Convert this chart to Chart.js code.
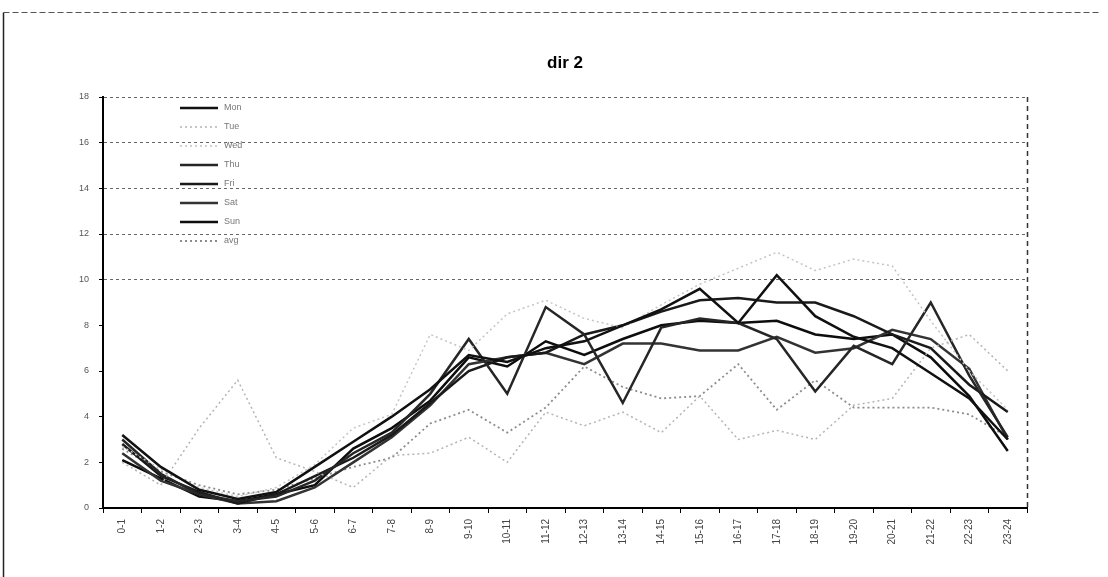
<!DOCTYPE html>
<html>
<head>
<meta charset="utf-8">
<script src="https://cdn.jsdelivr.net/npm/chart.js@4.4.0/dist/chart.umd.min.js"></script>
<style>
  html, body { margin: 0; padding: 0; background: #fff; }
  #wrap { width: 1108px; height: 577px; }
</style>
</head>
<body>
<div id="wrap"><canvas id="dirChart" width="1108" height="577"></canvas></div>
<script>
// hours of the day
const hours = ['0-1','1-2','2-3','3-4','4-5','5-6','6-7','7-8','8-9','9-10','10-11','11-12',
  '12-13','13-14','14-15','15-16','16-17','17-18','18-19','19-20','20-21','21-22','22-23','23-24'];

const seriesNames = ['Mon','Tue','Wed','Thu','Fri','Sat','Sun','avg'];

// values (rough)
const mon = [3.2,1.8,0.8,0.4,0.7,1.8,2.9,4.0,5.2,6.7,6.4,7.0,7.3,8.0,8.7,9.6,8.1,10.2,8.4,7.5,7.0,5.9,4.8,3.0];
const tue = [2.0,1.0,3.5,5.6,2.2,1.6,0.9,2.3,2.4,3.1,2.0,4.2,3.6,4.2,3.3,4.9,3.0,3.4,3.0,4.5,4.8,7.0,7.6,6.0];
const wed = [2.7,1.7,0.9,0.5,0.9,1.9,3.5,4.1,7.6,6.9,8.5,9.1,8.3,7.9,8.9,9.8,10.5,11.2,10.4,10.9,10.6,8.2,6.0,4.3];
const thu = [3.0,1.5,0.6,0.3,0.5,1.2,2.4,3.3,5.0,7.4,5.0,8.8,7.6,4.6,7.9,8.3,8.1,7.4,5.1,7.1,6.3,9.0,5.8,3.1];
const fri = [2.8,1.4,0.7,0.2,0.6,1.4,2.2,3.2,4.6,6.0,6.6,6.8,7.6,8.0,8.6,9.1,9.2,9.0,9.0,8.4,7.6,7.0,5.4,4.2];
const sat = [2.4,1.2,0.6,0.2,0.3,0.9,2.0,3.1,4.5,6.3,6.6,6.8,6.3,7.2,7.2,6.9,6.9,7.5,6.8,7.0,7.8,7.4,6.1,3.0];
const sun = [2.1,1.3,0.5,0.3,0.6,1.0,2.6,3.5,4.7,6.6,6.2,7.3,6.7,7.4,8.0,8.2,8.1,8.2,7.6,7.4,7.6,6.6,4.9,2.5];
const avg = [2.6,1.6,1.0,0.6,0.8,1.3,1.8,2.2,3.7,4.3,3.3,4.4,6.2,5.3,4.8,4.9,6.3,4.3,5.6,4.4,4.4,4.4,4.1,3.1];

const yTicks = [0,2,4,6,8,10,12,14,16,18];

const allData = [mon, tue, wed, thu, fri, sat, sun, avg];
const lineColors = ['#111111','#b4b4b4','#c4c4c4','#262626','#1a1a1a','#333333','#0d0d0d','#8c8c8c'];
const lineDash = [[],[2,3],[2,3],[],[],[],[],[2,3]];
const lineWidth = [2.5,1.5,1.5,2.5,2.5,2.5,2.5,1.8];

const datasets = allData.map((d, i) => ({
    label: seriesNames[i],
    data: d,
    borderColor: lineColors[i],
    borderDash: lineDash[i],
    borderWidth: lineWidth[i],
    pointRadius: 0,
    fill: false,
    tension: 0
}));

// frame, title, legend, right border
const decor = {
    id: 'decor',
    beforeDraw(chart) {
        const c = chart.ctx;
        c.save();
        c.fillStyle = '#fff';
        c.fillRect(0, 0, chart.width, chart.height);
        c.strokeStyle = '#222';
        c.lineWidth = 1.5;
        c.beginPath();
        c.moveTo(3.5, 577); c.lineTo(3.5, 12.5);
        c.stroke();
        c.setLineDash([6, 3]);
        c.strokeStyle = '#555';
        c.lineWidth = 1;
        c.beginPath();
        c.moveTo(3.5, 12.5); c.lineTo(1100, 12.5);
        c.stroke();
        c.restore();
    },
    afterDraw(chart) {
        const c = chart.ctx;
        const a = chart.chartArea;
        c.save();
        // right border of plot
        c.strokeStyle = '#333';
        c.lineWidth = 1.5;
        c.setLineDash([5, 4]);
        c.beginPath();
        c.moveTo(a.right + 0.5, a.top); c.lineTo(a.right + 0.5, a.bottom);
        c.stroke();
        c.setLineDash([]);
        // title
        c.fillStyle = '#000';
        c.font = 'bold 17px "Liberation Sans", Arial, sans-serif';
        c.textAlign = 'center';
        c.textBaseline = 'middle';
        c.fillText('dir 2', (a.left + a.right) / 2, 63);
        // legend
        c.font = '9px "Liberation Sans", Arial, sans-serif';
        c.textAlign = 'left';
        chart.data.datasets.forEach((ds, i) => {
            const y = a.top + 11 + i * 19;
            c.strokeStyle = ds.borderColor;
            c.lineWidth = ds.borderWidth;
            c.setLineDash(ds.borderDash);
            c.beginPath();
            c.moveTo(a.left + 77, y); c.lineTo(a.left + 115, y);
            c.stroke();
            c.setLineDash([]);
            c.fillStyle = '#777';
            c.fillText(ds.label, a.left + 121, y);
        });
        c.restore();
    }
};

new Chart(document.getElementById('dirChart'), {
    type: 'line',
    data: { labels: hours, datasets },
    options: {
        responsive: false,
        animation: false,
        layout: { padding: { left: 0, right: 81, top: 97, bottom: 0 } },
        plugins: {
            legend: { display: false },
            title: { display: false },
            tooltip: { enabled: false }
        },
        scales: {
            x: {
                offset: true,
                afterFit: s => { s.height = 69; },
                grid: { drawOnChartArea: false, offset: true, tickLength: 5, tickColor: '#000' },
                border: { color: '#000', width: 2 },
                ticks: {
                    minRotation: 90, maxRotation: 90, autoSkip: false, padding: 6,
                    color: '#444',
                    font: { size: 10, family: '"Liberation Sans", Arial, sans-serif' }
                }
            },
            y: {
                min: 0, max: 18,
                afterFit: s => { s.width = 103; },
                afterBuildTicks: s => { s.ticks = yTicks.map(v => ({ value: v })); },
                grid: {
                    color: ctx => (ctx.tick && ctx.tick.value >= 10 ? '#666' : 'rgba(0,0,0,0)'),
                    tickLength: 4,
                    tickColor: '#000'
                },
                border: { color: '#000', width: 2, dash: [3, 3] },
                ticks: {
                    padding: 10,
                    color: '#555',
                    font: { size: 9, family: '"Liberation Sans", Arial, sans-serif' }
                }
            }
        }
    },
    plugins: [decor]
});
</script>
</body>
</html>
